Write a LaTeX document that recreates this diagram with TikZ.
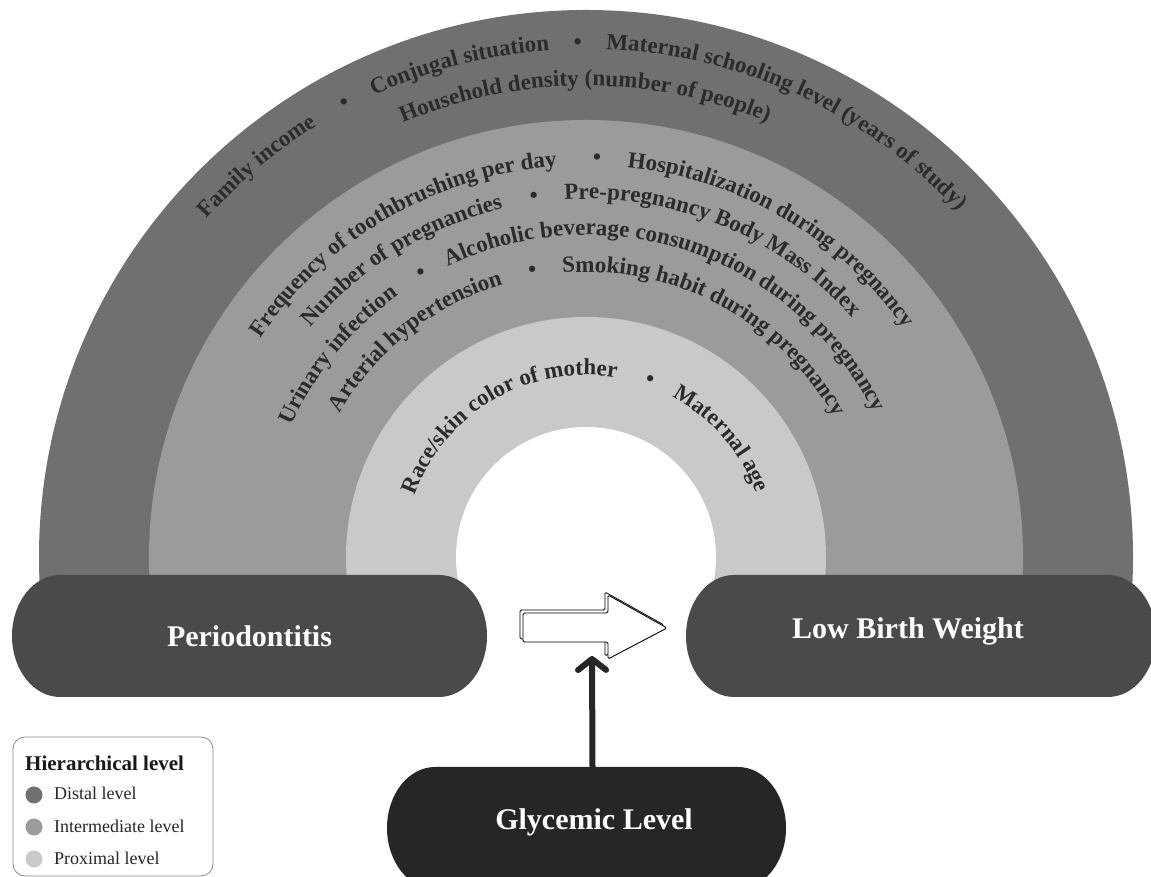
\documentclass[tikz,border=0pt]{standalone}
\usepackage{fontspec}
\setmainfont{Liberation Serif}
\usetikzlibrary{decorations.text,arrows.meta,calc}
\definecolor{distal}{HTML}{707070}
\definecolor{interm}{HTML}{9B9B9B}
\definecolor{proximal}{HTML}{C9C9C9}
\definecolor{pillgray}{HTML}{4A4A4A}
\definecolor{pilldark}{HTML}{262626}
\definecolor{ringtext}{HTML}{2B2B2B}
\definecolor{legline}{HTML}{8A8A8A}
\newcommand\ringfont{\fontsize{23}{23}\selectfont\bfseries\color{ringtext}}
\newcommand\arctext[3]{\path[decorate,decoration={text along path,text align=center,text={|\ringfont|#3}}] ([shift={(586,320)}]{#2+75}:#1) arc[start angle={#2+75}, end angle={#2-75}, radius=#1];}
\newcommand\pillfill[2]{\fill[#2] ([xshift=48pt]#1.north west) -- ([xshift=-48pt]#1.north east) arc[start angle=90,end angle=-90,x radius=48pt,y radius=61pt] -- ([xshift=48pt]#1.south west) arc[start angle=270,end angle=90,x radius=48pt,y radius=61pt] -- cycle;}
\tikzset{
  pillbox/.style={rectangle,minimum height=122pt,inner sep=0pt,outer sep=0pt},
  pilltext/.style={font=\fontsize{30}{30}\selectfont\bfseries,text=white,inner sep=0pt,anchor=base},
  legdot/.style={circle,minimum size=17pt,inner sep=0pt},
  legtext/.style={font=\fontsize{18}{18}\selectfont,text=black!85,inner sep=0pt,anchor=base west},
}
\begin{document}
\begin{tikzpicture}[x=1pt,y=1pt]
\useasboundingbox (0,0) rectangle (1151,877);
\fill[white] (0,0) rectangle (1151,877);
% rings
\begin{scope}
\clip (0,284) rectangle (1151,877);
\fill[distal] (586,320) circle (547);
\fill[interm] (586,320) circle (437);
\fill[proximal] (586,320) circle (240);
\fill[white] (586,320) circle (130);
\end{scope}
% distal texts
\arctext{508}{130.1}{Family income}
\arctext{508}{118.0}{•}
\arctext{508}{104.4}{Conjugal situation}
\arctext{508}{90.9}{•}
\arctext{508}{65.3}{Maternal schooling level (years of study)}
\arctext{471}{90.1}{Household density (number of people)}
% intermediate texts
\arctext{392}{120.2}{Frequency of toothbrushing per day}
\arctext{392}{88.4}{•}
\arctext{392}{59.8}{Hospitalization during pregnancy}
\arctext{358}{121.8}{Number of pregnancies}
\arctext{358}{98.2}{•}
\arctext{358}{67.7}{Pre-pregnancy Body Mass Index}
\arctext{322}{140.8}{Urinary infection}
\arctext{322}{120.1}{•}
\arctext{322}{71.0}{Alcoholic beverage consumption during pregnancy}
\arctext{285}{128.3}{Arterial hypertension}
\arctext{285}{100.6}{•}
\arctext{285}{62.0}{Smoking habit during pregnancy}
% proximal texts
\arctext{182}{120.3}{Race/skin color of mother}
\arctext{182}{70.2}{•}
\arctext{182}{41.1}{Maternal age}
% pills
\node[pillbox,minimum width=475pt] (perio) at (249.5,241) {};
\node[pillbox,minimum width=470pt] (lbw) at (921,241) {};
\node[pillbox,minimum width=399pt] (glyc) at (586.5,49) {};
\pillfill{perio}{pillgray}
\pillfill{lbw}{pillgray}
\pillfill{glyc}{pilldark}
\node[pilltext] (periotext) at (249.5,230) {Periodontitis};
\node[pilltext] (lbwtext) at (908,238) {Low Birth Weight};
\node[pilltext] (glyctext) at (594,47) {Glycemic Level};
% outline arrow (association)
\begin{scope}[shift={(-3,3)}]
\filldraw[fill=white,draw=black,line width=0.8pt,rounded corners=1.5pt] (523,264) -- (608,264) -- (608,282) -- (667,249) -- (608,218) -- (608,235) -- (523,235) -- cycle;
\end{scope}
\filldraw[fill=white,draw=black,line width=0.9pt,rounded corners=1.5pt] (523,264) -- (608,264) -- (608,282) -- (667,249) -- (608,218) -- (608,235) -- (523,235) -- cycle;
\coordinate (assoc) at (592,221);
% glycemic arrow
\draw[pilldark,line width=6pt,-{Straight Barb[length=11pt,width=28pt,round]}] ([xshift=6pt]glyc.north) -- (assoc);
% legend
\draw[legline,line width=0.8pt,rounded corners=12pt] (13,1) rectangle (213,140);
\node[font=\fontsize{21}{21}\selectfont\bfseries,text=black!90,inner sep=0pt,anchor=base west] (legtitle) at (25,106) {Hierarchical level};
\node[legdot,fill=distal] (ld1) at (34,82) {};
\node[legdot,fill=interm] (ld2) at (34,50) {};
\node[legdot,fill=proximal] (ld3) at (34,18) {};
\node[legtext] (lt1) at (54,77) {Distal level};
\node[legtext] (lt2) at (54,44) {Intermediate level};
\node[legtext] (lt3) at (54,12) {Proximal level};
\end{tikzpicture}
\end{document}
